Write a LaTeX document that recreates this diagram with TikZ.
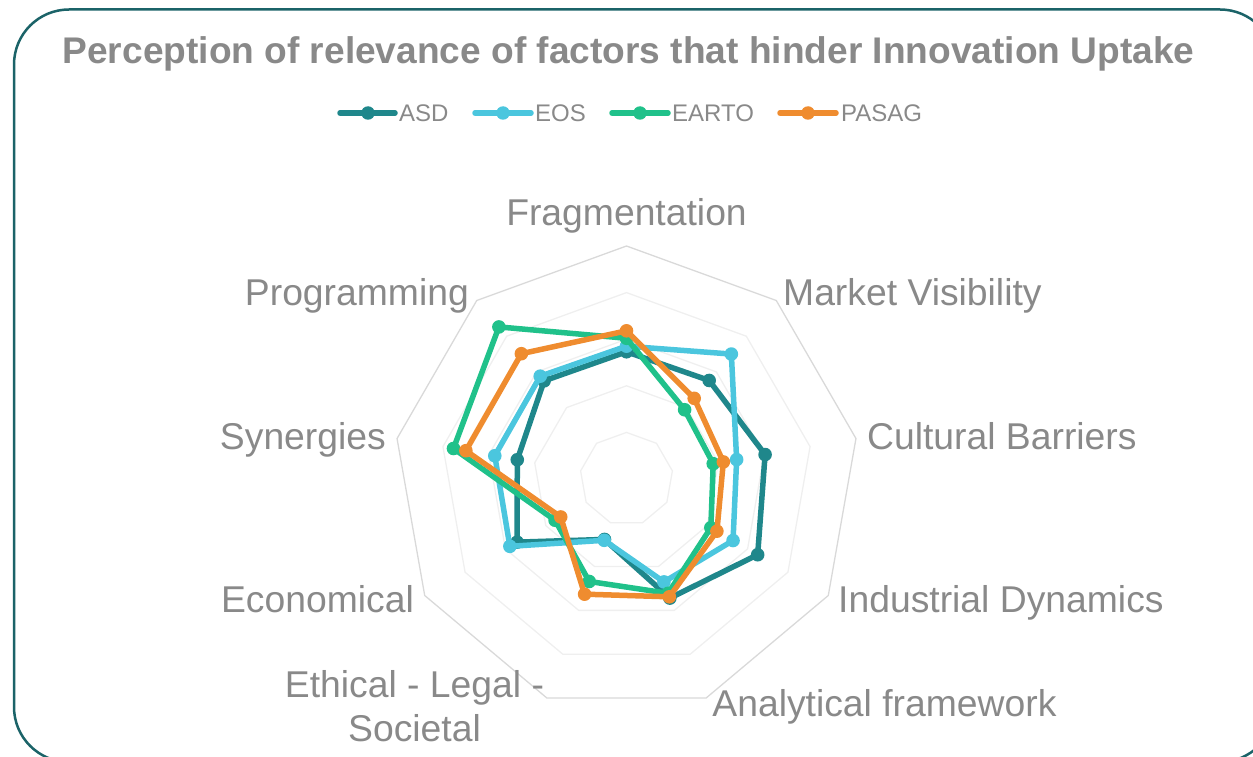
\documentclass[tikz,border=0pt]{standalone}
\usepackage{fontspec}
\setmainfont{Liberation Sans}
\usetikzlibrary{shapes.geometric}

\definecolor{asdc}{HTML}{1F878B}
\definecolor{eosc}{HTML}{4BC6DE}
\definecolor{eartoc}{HTML}{20C18A}
\definecolor{pasagc}{HTML}{EF8C2F}
\definecolor{framec}{HTML}{1B6368}
\definecolor{textc}{HTML}{898989}
\definecolor{gridc}{HTML}{EFEFEF}
\definecolor{outerc}{HTML}{D9D9D9}

\begin{document}
\begin{tikzpicture}[x=1pt,y=1pt]
\tikzset{ring/.style = {shape=regular polygon, regular polygon sides=9, draw=gridc, line width=1.3pt, inner sep=0pt, outer sep=0pt}}
\tikzset{axislabel/.style = {text=textc, font=\fontsize{37.3}{44}\selectfont, inner sep=0pt}}
\tikzset{legtext/.style = {text=textc, font=\fontsize{24}{28}\selectfont, inner sep=0pt, anchor=base west}}
\tikzset{series/.style = {line width=5.5pt, line join=round, line cap=round}}
\tikzset{dot/.style = {shape=circle, inner sep=0pt, minimum size=13.5pt}}
\useasboundingbox (0,0) rectangle (1253,-757);
\draw[framec, line width=2.5pt, rounded corners=55pt] (14,-9.5) rectangle (1275,-762);
\node[text=textc, font=\fontsize{37.1}{44}\selectfont\bfseries, anchor=base, inner sep=0pt] (title) at (628.5,-64) {Perception of relevance of factors that hinder Innovation Uptake};

\coordinate (asdA) at (340,-113);
\coordinate (asdB) at (395,-113);
\coordinate (eosA) at (475,-113);
\coordinate (eosB) at (531,-113);
\coordinate (eartoA) at (612,-113);
\coordinate (eartoB) at (668,-113);
\coordinate (pasagA) at (780,-113);
\coordinate (pasagB) at (836,-113);
\draw[series, asdc] (asdA) -- (asdB);
\node[dot, fill=asdc] (asdM) at (368,-113) {};
\node[legtext] (asdT) at (399,-122) {ASD};
\draw[series, eosc] (eosA) -- (eosB);
\node[dot, fill=eosc] (eosM) at (503,-113) {};
\node[legtext] (eosT) at (535,-122) {EOS};
\draw[series, eartoc] (eartoA) -- (eartoB);
\node[dot, fill=eartoc] (eartoM) at (640,-113) {};
\node[legtext] (eartoT) at (672,-122) {EARTO};
\draw[series, pasagc] (pasagA) -- (pasagB);
\node[dot, fill=pasagc] (pasagM) at (808,-113) {};
\node[legtext] (pasagT) at (841,-122) {PASAG};

\begin{scope}[shift={(626.5,-479)}, x=46.6pt, y=46.6pt]
\node[ring, minimum size=93.2pt] (ring1) at (0,0) {};
\node[ring, minimum size=186.4pt] (ring2) at (0,0) {};
\node[ring, minimum size=279.6pt] (ring3) at (0,0) {};
\node[ring, minimum size=372.8pt] (ring4) at (0,0) {};
\node[ring, minimum size=466pt, draw=outerc] (ring5) at (0,0) {};

\coordinate (asd1) at (90:2.73);
\coordinate (asd2) at (50:2.76);
\coordinate (asd3) at (10:3.02);
\coordinate (asd4) at (-30:3.25);
\coordinate (asd5) at (-70:2.72);
\coordinate (asd6) at (-110:1.38);
\coordinate (asd7) at (-150:2.71);
\coordinate (asd8) at (170:2.38);
\coordinate (asd9) at (130:2.75);
\coordinate (eos1) at (90:2.85);
\coordinate (eos2) at (50:3.50);
\coordinate (eos3) at (10:2.40);
\coordinate (eos4) at (-30:2.64);
\coordinate (eos5) at (-70:2.35);
\coordinate (eos6) at (-110:1.40);
\coordinate (eos7) at (-150:2.89);
\coordinate (eos8) at (170:2.87);
\coordinate (eos9) at (130:2.88);
\coordinate (earto1) at (90:3.02);
\coordinate (earto2) at (50:1.94);
\coordinate (earto3) at (10:1.89);
\coordinate (earto4) at (-30:2.09);
\coordinate (earto5) at (-70:2.61);
\coordinate (earto6) at (-110:2.34);
\coordinate (earto7) at (-150:1.77);
\coordinate (earto8) at (170:3.77);
\coordinate (earto9) at (130:4.26);
\coordinate (pasag1) at (90:3.18);
\coordinate (pasag2) at (50:2.26);
\coordinate (pasag3) at (10:2.11);
\coordinate (pasag4) at (-30:2.24);
\coordinate (pasag5) at (-70:2.69);
\coordinate (pasag6) at (-110:2.63);
\coordinate (pasag7) at (-150:1.63);
\coordinate (pasag8) at (170:3.50);
\coordinate (pasag9) at (130:3.51);

\draw[series, asdc] (asd1) -- (asd2) -- (asd3) -- (asd4) -- (asd5) -- (asd6) -- (asd7) -- (asd8) -- (asd9) -- cycle;
\fill[asdc] (asd1) circle[radius=6.8pt] (asd2) circle[radius=6.8pt] (asd3) circle[radius=6.8pt] (asd4) circle[radius=6.8pt] (asd5) circle[radius=6.8pt] (asd6) circle[radius=6.8pt] (asd7) circle[radius=6.8pt] (asd8) circle[radius=6.8pt] (asd9) circle[radius=6.8pt];
\draw[series, eosc] (eos1) -- (eos2) -- (eos3) -- (eos4) -- (eos5) -- (eos6) -- (eos7) -- (eos8) -- (eos9) -- cycle;
\fill[eosc] (eos1) circle[radius=6.8pt] (eos2) circle[radius=6.8pt] (eos3) circle[radius=6.8pt] (eos4) circle[radius=6.8pt] (eos5) circle[radius=6.8pt] (eos6) circle[radius=6.8pt] (eos7) circle[radius=6.8pt] (eos8) circle[radius=6.8pt] (eos9) circle[radius=6.8pt];
\draw[series, eartoc] (earto1) -- (earto2) -- (earto3) -- (earto4) -- (earto5) -- (earto6) -- (earto7) -- (earto8) -- (earto9) -- cycle;
\fill[eartoc] (earto1) circle[radius=6.8pt] (earto2) circle[radius=6.8pt] (earto3) circle[radius=6.8pt] (earto4) circle[radius=6.8pt] (earto5) circle[radius=6.8pt] (earto6) circle[radius=6.8pt] (earto7) circle[radius=6.8pt] (earto8) circle[radius=6.8pt] (earto9) circle[radius=6.8pt];
\draw[series, pasagc] (pasag1) -- (pasag2) -- (pasag3) -- (pasag4) -- (pasag5) -- (pasag6) -- (pasag7) -- (pasag8) -- (pasag9) -- cycle;
\fill[pasagc] (pasag1) circle[radius=6.8pt] (pasag2) circle[radius=6.8pt] (pasag3) circle[radius=6.8pt] (pasag4) circle[radius=6.8pt] (pasag5) circle[radius=6.8pt] (pasag6) circle[radius=6.8pt] (pasag7) circle[radius=6.8pt] (pasag8) circle[radius=6.8pt] (pasag9) circle[radius=6.8pt];
\end{scope}

\node[axislabel, anchor=base] (lblFrag) at ([yshift=20pt]ring5.90) {Fragmentation};
\node[axislabel, anchor=base west] (lblMarket) at ([xshift=6.7pt, yshift=-4.5pt]ring5.50) {Market Visibility};
\node[axislabel, anchor=base west] (lblCult) at ([xshift=11pt, yshift=-10.5pt]ring5.10) {Cultural Barriers};
\node[axislabel, anchor=base west] (lblInd) at ([xshift=9.7pt, yshift=-16.5pt]ring5.-30) {Industrial Dynamics};
\node[axislabel, anchor=base west] (lblAnal) at ([xshift=6pt, yshift=-19pt]ring5.-70) {Analytical framework};
\node[axislabel, anchor=south, align=center] (lblEth) at ([xshift=-132.3pt, yshift=-44pt]ring5.-110) {Ethical - Legal -\\Societal};
\node[axislabel, anchor=base east] (lblEco) at ([xshift=-10.7pt, yshift=-16.5pt]ring5.-150) {Economical};
\node[axislabel, anchor=base east] (lblSyn) at ([xshift=-11pt, yshift=-10.5pt]ring5.170) {Synergies};
\node[axislabel, anchor=base east] (lblProg) at ([xshift=-7.7pt, yshift=-5pt]ring5.130) {Programming};
\end{tikzpicture}
\end{document}
